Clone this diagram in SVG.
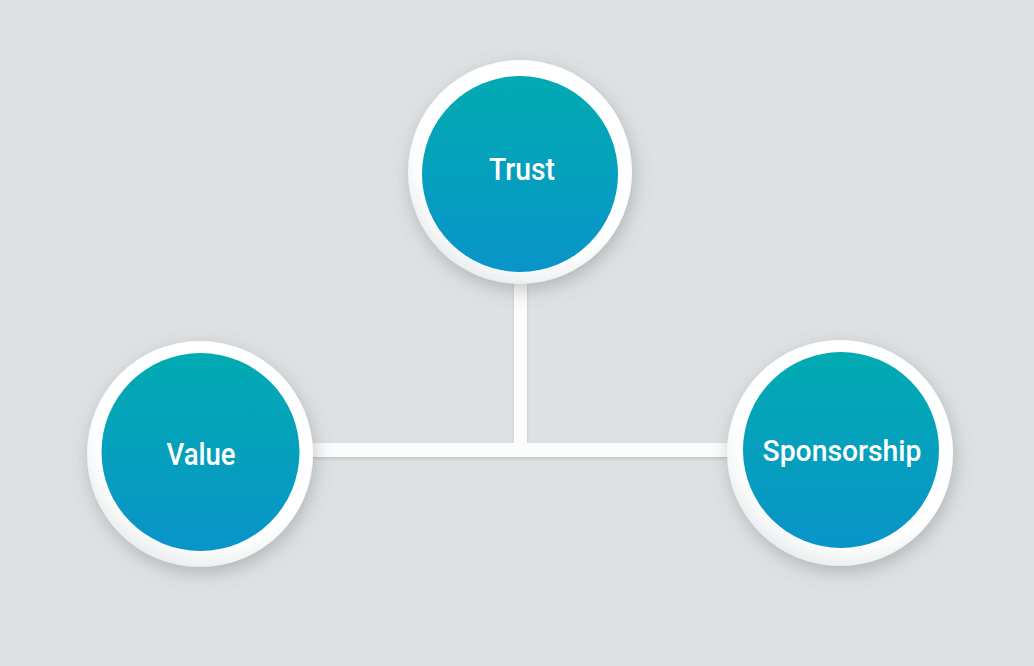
<svg xmlns="http://www.w3.org/2000/svg" width="1034" height="666" viewBox="0 0 1034 666">
<defs>
<linearGradient id="teal" x1="0" y1="0" x2="0" y2="1">
<stop offset="0" stop-color="#01abb1"/>
<stop offset="1" stop-color="#0994c9"/>
</linearGradient>
<radialGradient id="ring" cx="0.55" cy="0.4" r="0.62">
<stop offset="0.82" stop-color="#ffffff"/>
<stop offset="1" stop-color="#e9ebec"/>
</radialGradient>
<filter id="sh" x="-30%" y="-30%" width="160%" height="160%">
<feDropShadow dx="2" dy="6" stdDeviation="9" flood-color="#6d7479" flood-opacity="0.4"/>
</filter>
<filter id="lsh" x="-10%" y="-50%" width="120%" height="300%">
<feDropShadow dx="0" dy="2" stdDeviation="1.5" flood-color="#8a9195" flood-opacity="0.35"/>
</filter>
</defs>
<style>
.ring{fill:url(#ring);filter:url(#sh)}
.core{fill:url(#teal)}
.lbl{font-family:Roboto,"Liberation Sans",sans-serif;font-weight:500;fill:#ffffff;text-anchor:middle}
.conn{fill:#fcfcfc}
</style>
<rect width="1034" height="666" fill="#dde1e3"/>
<g id="connectors" filter="url(#lsh)">
<rect class="conn" x="514" y="270" width="13" height="187"/>
<rect class="conn" x="300" y="443" width="440" height="14"/>
</g>
<g id="trust">
<circle class="ring" cx="520" cy="172" r="112"/>
<circle class="core" cx="520" cy="174" r="98"/>
<text class="lbl" x="522" y="180" font-size="32" textLength="66" lengthAdjust="spacingAndGlyphs">Trust</text>
</g>
<g id="value">
<circle class="ring" cx="200" cy="454" r="113"/>
<circle class="core" cx="200.5" cy="452" r="99"/>
<text class="lbl" x="201" y="465" font-size="32" textLength="69" lengthAdjust="spacingAndGlyphs">Value</text>
</g>
<g id="sponsorship">
<circle class="ring" cx="840" cy="453" r="113"/>
<circle class="core" cx="841" cy="450" r="98"/>
<text class="lbl" x="842" y="461" font-size="29" textLength="159" lengthAdjust="spacingAndGlyphs">Sponsorship</text>
</g>
</svg>
